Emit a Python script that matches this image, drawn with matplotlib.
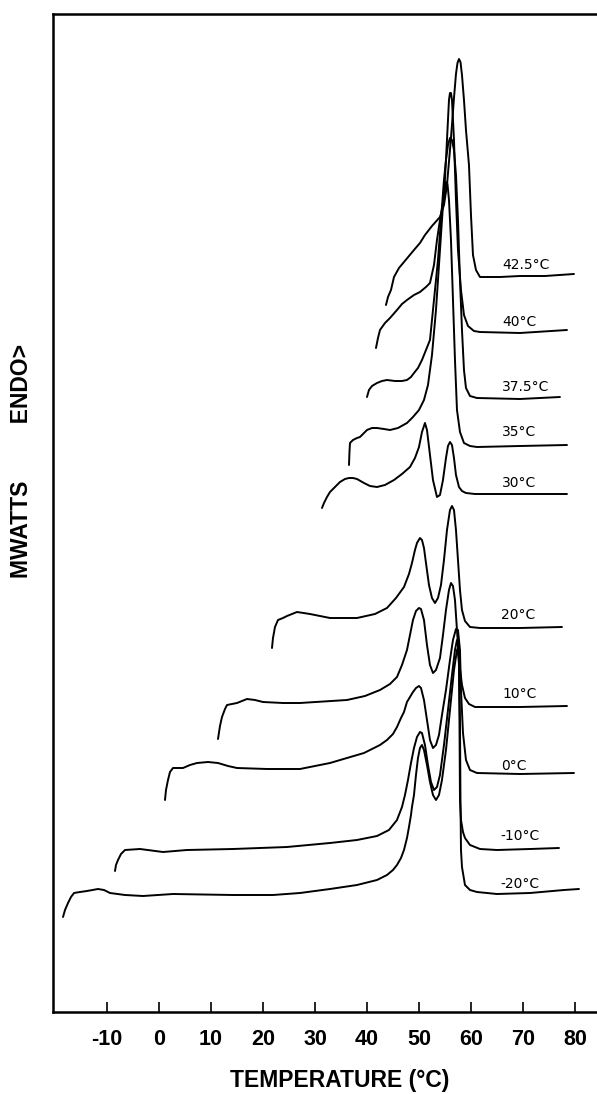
import matplotlib
matplotlib.use("Agg")
import matplotlib.pyplot as plt

plt.rcParams["axes.unicode_minus"] = False

# Curves (x: horizontal position, y: vertical position,
# both in reference pixel units); converted to temperature (°C) and signal (arbitrary units)
def to_data(xs, ys):
    T = [(x - 159) / 5.2 for x in xs]
    S = [(1012 - y) / 10 for y in ys]
    return T, S

labels = ["42.5°C", "40°C", "37.5°C", "35°C", "30°C", "20°C", "10°C", "0°C", "-10°C", "-20°C"]

c425_x = [386, 388, 391, 394, 399, 404, 409, 414, 420, 425, 432, 440, 444, 447, 450, 452, 454, 456, 457.5, 459,
          460.5, 462, 464, 466, 469, 471, 473, 476, 480, 500, 520, 545, 574]
c425_y = [305, 297, 290, 277, 268, 262, 256, 250, 243, 235, 226, 217, 205, 185, 150, 125, 98, 74, 63, 59,
          62, 75, 100, 130, 165, 215, 255, 270, 277, 277, 276, 276, 274]

c40_x = [376, 378, 380, 385, 390, 397, 402, 407, 414, 420, 426, 430, 434, 437, 440, 444, 446, 448, 449, 450,
         451, 452, 454, 456, 458, 461, 464, 468, 474, 480, 520, 567]
c40_y = [348, 338, 330, 323, 318, 310, 304, 300, 295, 292, 287, 283, 265, 240, 220, 197, 160, 120, 100, 93,
         93, 100, 140, 200, 250, 290, 315, 326, 331, 332, 333, 330]

c375_x = [367, 369, 372, 377, 382, 387, 395, 402, 407, 411, 414, 418, 422, 426, 430, 434, 438, 441, 444, 446,
          448, 450, 452, 454, 456, 458, 460, 462, 464, 466, 470, 477, 520, 560]
c375_y = [397, 390, 386, 383, 381, 380, 381, 381, 380, 377, 373, 368, 360, 350, 340, 300, 260, 220, 180, 160,
          145, 138, 140, 150, 175, 220, 280, 330, 370, 388, 396, 398, 399, 397]

c35_x = [349, 349.5, 350, 353, 357, 360, 364, 367, 372, 377, 384, 390, 398, 407, 413, 419, 424, 428, 432, 436,
         440, 443, 445, 446, 447.5, 449, 451, 453, 455, 457, 460, 464, 470, 477, 520, 567]
c35_y = [465, 452, 443, 440, 438, 437, 433, 430, 428, 428, 429, 430, 428, 423, 417, 410, 400, 385, 355, 310,
         250, 205, 188, 182, 184, 200, 240, 300, 360, 410, 432, 443, 446, 447, 446, 445]

c30_x = [322, 324, 327, 330, 334, 340, 345, 349, 353, 357, 364, 370, 377, 385, 394, 402, 410, 415, 419, 422,
         425, 427, 430, 433, 437, 440, 443, 446, 448, 450, 452, 454, 456, 459, 462, 466, 475, 520, 567]
c30_y = [508, 503, 497, 492, 488, 482, 479, 478, 478, 479, 483, 486, 487, 485, 480, 474, 467, 458, 447, 432,
         423, 430, 455, 480, 497, 495, 480, 458, 446, 442, 445, 458, 475, 487, 491, 493, 494, 494, 494]

c20_x = [272, 273, 275, 278, 283, 287, 297, 310, 330, 357, 375, 387, 396, 404, 409, 412, 415, 417, 420, 422,
         424, 426, 429, 432, 435, 438, 441, 444, 447, 450, 452, 454, 456, 458, 460, 462, 465, 470, 480, 520, 562]
c20_y = [648, 638, 627, 620, 618, 616, 612, 614, 618, 618, 614, 608, 598, 587, 574, 563, 550, 543, 538, 540,
         548, 563, 585, 598, 603, 598, 585, 560, 530, 510, 506, 510, 530, 560, 590, 610, 621, 627, 628, 628, 627]

c10_x = [218, 220, 222, 225, 227, 237, 247, 255, 263, 283, 300, 347, 365, 380, 390, 397, 402, 407, 410, 413,
         416, 419, 421, 424, 427, 430, 433, 436, 440, 443, 446, 449, 451, 453, 455, 457, 459, 462, 465, 469,
         475, 520, 567]
c10_y = [739, 726, 717, 709, 705, 703, 699, 700, 702, 703, 703, 700, 696, 690, 684, 677, 665, 650, 635, 620,
         611, 608, 609, 620, 645, 665, 673, 670, 658, 635, 610, 590, 583, 586, 600, 630, 660, 685, 698, 704,
         707, 707, 706]

c0_x = [165, 166, 168, 170, 173, 183, 190, 197, 208, 218, 228, 237, 267, 300, 330, 364, 380, 387, 393, 397,
        401, 404, 407, 410, 413, 416, 419, 421, 424, 427, 430, 433, 436, 439, 442, 446, 450, 453, 456, 458,
        460, 461, 463, 466, 470, 477, 520, 574]
c0_y = [800, 790, 780, 772, 768, 768, 765, 763, 762, 763, 766, 768, 769, 769, 763, 753, 745, 740, 734, 727,
        718, 712, 702, 697, 692, 688, 686, 688, 700, 720, 740, 748, 745, 735, 715, 690, 660, 640, 629, 630,
        650, 690, 733, 760, 770, 773, 774, 773]

cm10_x = [115, 116, 118, 121, 125, 140, 163, 187, 233, 287, 330, 357, 377, 389, 397, 402, 405, 408, 411, 414,
          417, 420, 422, 425, 428, 431, 434, 437, 440, 444, 448, 452, 455, 457, 458, 459, 459.5, 460, 461, 463,
          465, 470, 480, 497, 530, 559]
cm10_y = [871, 865, 860, 854, 850, 849, 852, 850, 849, 847, 843, 840, 836, 830, 820, 807, 795, 780, 763, 748,
          737, 732, 733, 745, 765, 782, 790, 787, 775, 745, 710, 675, 650, 640, 640, 660, 720, 800, 820, 832,
          838, 845, 849, 850, 849, 848]

cm20_x = [63, 65, 68, 71, 74, 80, 87, 98, 104, 110, 125, 143, 173, 233, 273, 300, 330, 357, 377, 387,
          393, 397, 401, 404, 407, 409, 411, 412, 414, 416, 418, 420, 422, 424, 427, 430, 433, 436, 439, 442,
          446, 450, 454, 457, 458, 459, 460, 460.5, 461, 462, 465, 470, 477, 497, 530, 564, 579]
cm20_y = [917, 910, 903, 897, 893, 892, 891, 889, 890, 893, 895, 896, 894, 895, 895, 893, 889, 885, 880, 875,
          870, 865, 858, 850, 838, 827, 815, 807, 795, 775, 758, 748, 745, 750, 765, 782, 795, 800, 795, 780,
          750, 710, 670, 650, 648, 665, 720, 800, 850, 867, 885, 890, 892, 894, 893, 890, 889]

curves = [(c425_x, c425_y), (c40_x, c40_y), (c375_x, c375_y), (c35_x, c35_y), (c30_x, c30_y),
          (c20_x, c20_y), (c10_x, c10_y), (c0_x, c0_y), (cm10_x, cm10_y), (cm20_x, cm20_y)]

label_x = [502, 502, 502, 502, 502, 501, 502, 501, 500, 500]
label_y = [265, 322, 387, 432, 483, 615, 694, 766, 836, 884]

W, H = 597, 1094
fig = plt.figure(figsize=(W / 100, H / 100), dpi=100)
ax = fig.add_axes([53 / W, (H - 1012) / H, (W - 53) / W + 0.01, (1012 - 14) / H])
ax.set_xlim((53 - 159) / 5.2, (W + 6 - 159) / 5.2)
ax.set_ylim(0, (1012 - 14) / 10)

for xs, ys in curves:
    T, S = to_data(xs, ys)
    ax.plot(T, S, color="black", lw=1.4, solid_joinstyle="round", solid_capstyle="round")

for lab, lx, ly in zip(labels, label_x, label_y):
    T, S = to_data([lx], [ly])
    ax.text(T[0], S[0], lab, fontsize=10, ha="left", va="center", family="DejaVu Sans")

ax.spines["right"].set_visible(False)
for s in ["left", "bottom", "top"]:
    ax.spines[s].set_linewidth(1.8)
ax.set_yticks([])
ax.set_xticks([-10, 0, 10, 20, 30, 40, 50, 60, 70, 80])
ax.tick_params(axis="x", direction="in", length=7, width=1.2, labelsize=15.5, pad=12)
for t in ax.get_xticklabels():
    t.set_fontweight("bold")
    t.set_family("Liberation Sans")

fig.text(340 / W, 1 - 1081 / H, "TEMPERATURE (°C)", ha="center", va="center",
         fontsize=16.5, fontweight="bold", family="Liberation Sans")
fig.text(22 / W, 1 - 461 / H, "MWATTS         ENDO>", rotation=90, ha="center", va="center",
         fontsize=16.5, fontweight="bold", family="Liberation Sans")

fig.savefig("out.png", dpi=100)
